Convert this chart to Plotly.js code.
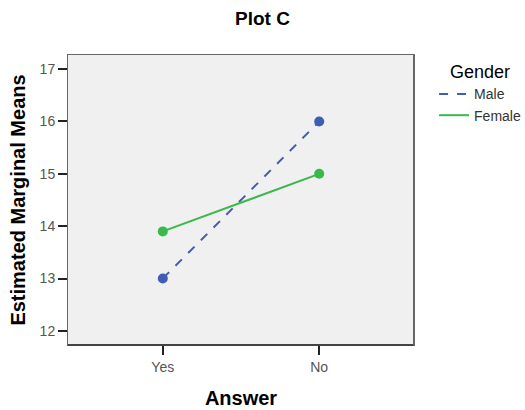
<!DOCTYPE html>
<html>
<head>
<meta charset="utf-8">
<script src="https://cdn.plot.ly/plotly-3.0.1.min.js"></script>
<style>html,body{margin:0;padding:0;background:#fff;}#chart{width:525px;height:410px;}</style>
</head>
<body>
<div id="chart"></div>
<script>
const answers = ["Yes", "No"];
const maleMeans = [13.0, 16.0];
const femaleMeans = [13.9, 15.0];
const yTicks = [12, 13, 14, 15, 16, 17];

const maleColor = "#3f5db3";
const femaleColor = "#3bb84a";

const traces = [
  {
    x: answers, y: maleMeans, name: "Male", type: "scatter", mode: "lines",
    line: {color: maleColor, width: 2, dash: "dash"}, showlegend: true
  },
  {
    x: answers, y: femaleMeans, name: "Female", type: "scatter", mode: "lines",
    line: {color: femaleColor, width: 2}, showlegend: true
  },
  {
    x: answers, y: maleMeans, name: "Male", type: "scatter", mode: "markers",
    marker: {color: maleColor, size: 10}, showlegend: false
  },
  {
    x: answers, y: femaleMeans, name: "Female", type: "scatter", mode: "markers",
    marker: {color: femaleColor, size: 10}, showlegend: false
  }
];

const layout = {
  width: 525, height: 410,
  margin: {l: 68, r: 111, t: 55, b: 65, autoexpand: false},
  paper_bgcolor: "#ffffff",
  plot_bgcolor: "#f0f0f0",
  font: {family: "Arial, 'Liberation Sans', sans-serif", color: "#000"},
  title: {text: "<b>Plot C</b>", x: 0.5, xanchor: "center", y: 0.955, yanchor: "middle", font: {size: 19, color: "#000"}},
  xaxis: {
    type: "category", range: [-0.606, 1.606],
    showgrid: false, zeroline: false,
    showline: true, linecolor: "#666", linewidth: 1, mirror: true,
    ticks: "outside", ticklen: 9, tickwidth: 2, tickcolor: "#222",
    tickfont: {size: 14, color: "#555"},
    title: {text: "<b>Answer</b>", font: {size: 20, color: "#000"}, standoff: 17}
  },
  yaxis: {
    range: [11.73, 17.27], tickvals: yTicks,
    showgrid: false, zeroline: false,
    showline: true, linecolor: "#666", linewidth: 1, mirror: true,
    ticks: "outside", ticklen: 9, tickwidth: 2, tickcolor: "#222",
    tickfont: {size: 14, color: "#555"},
    title: {text: "<b>Estimated Marginal Means</b>", font: {size: 20, color: "#000"}, standoff: 8}
  },
  shapes: [
    {type: "line", xref: "paper", yref: "paper", x0: 0, x1: 1, y0: 0, y1: 0, line: {color: "#444", width: 2}},
    {type: "line", xref: "paper", yref: "paper", x0: 1, x1: 1, y0: 0, y1: 1, line: {color: "#666", width: 2}}
  ],
  showlegend: true,
  legend: {
    x: 1.058, xanchor: "left", y: 1.0, yanchor: "top",
    bgcolor: "rgba(0,0,0,0)",
    font: {size: 14, color: "#333"},
    title: {text: "Gender", font: {size: 18, color: "#000"}, side: "top center"},
    tracegroupgap: 0
  }
};

Plotly.newPlot("chart", traces, layout, {displayModeBar: false, staticPlot: true});
</script>
</body>
</html>
